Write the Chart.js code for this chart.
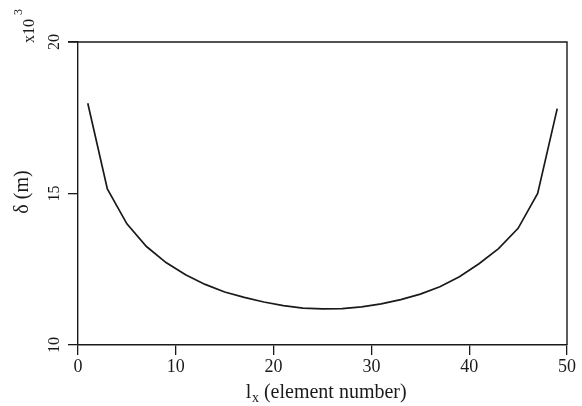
<!DOCTYPE html>
<html><head><meta charset="utf-8">
<script src="https://cdn.jsdelivr.net/npm/chart.js@4/dist/chart.umd.min.js"></script>
<style>html,body{margin:0;padding:0;background:#fff;overflow:hidden;}</style>
</head><body>
<canvas id="c" width="582" height="406"></canvas>
<script>
const elementNumbers = [1,3,5,7,9,11,13,15,17,19,21,23,25,27,29,31,33,35,37,39,41,43,45,47,49];
const deflection = [17.98,15.15,14.0,13.25,12.72,12.32,12.0,11.75,11.57,11.42,11.3,11.22,11.19,11.2,11.26,11.36,11.5,11.68,11.92,12.25,12.68,13.18,13.85,15.0,17.8];
const xTicks = [0,10,20,30,40,50];
const yTicks = [10,15,20];
const xTitleMain = 'l', xTitleSub = 'x', xTitleRest = ' (element number)';
const yTitle = 'δ (m)';
const yScaleLabel = 'x10', yScaleExp = '3';

const FONT = "'Liberation Serif', 'Times New Roman', serif";
const INK = '#1a1a1a';

const annotate = {
  id: 'annotate',
  afterDraw(chart) {
    const ctx = chart.ctx, a = chart.chartArea;
    const ys = chart.scales.y;
    ctx.save();
    ctx.strokeStyle = INK; ctx.lineWidth = 1.4;
    ctx.beginPath();
    ctx.moveTo(a.left - 10, a.top); ctx.lineTo(a.right, a.top); ctx.lineTo(a.right, a.bottom);
    ctx.stroke();
    ctx.fillStyle = INK;
    ctx.font = '16px ' + FONT;
    // y tick labels (rotated)
    yTicks.forEach(v => {
      const py = ys.getPixelForValue(v);
      ctx.save(); ctx.translate(55, py); ctx.rotate(-Math.PI/2);
      ctx.textAlign = 'center'; ctx.textBaseline = 'middle';
      ctx.fillText(String(v), 0, 0); ctx.restore();
    });
    // x10^3
    ctx.save(); ctx.translate(34, 43); ctx.rotate(-Math.PI/2);
    ctx.textAlign = 'left'; ctx.textBaseline = 'alphabetic';
    ctx.font = '16px ' + FONT;
    ctx.fillText(yScaleLabel, 0, 0);
    const w = ctx.measureText(yScaleLabel).width;
    ctx.font = '12px ' + FONT;
    ctx.fillText(yScaleExp, w + 4, -12);
    ctx.restore();
    // y title
    ctx.save(); ctx.translate(23, 192); ctx.rotate(-Math.PI/2);
    ctx.font = '20px ' + FONT; ctx.textAlign = 'center'; ctx.textBaseline = 'middle';
    ctx.fillText(yTitle, 0, 0); ctx.restore();
    // x title
    ctx.font = '20px ' + FONT;
    const w1 = ctx.measureText(xTitleMain).width;
    ctx.font = '14px ' + FONT;
    const w2 = ctx.measureText(xTitleSub).width;
    ctx.font = '20px ' + FONT;
    const w3 = ctx.measureText(xTitleRest).width;
    let x0 = 326 - (w1 + w2 + w3) / 2;
    const base = 398;
    ctx.textAlign = 'left'; ctx.textBaseline = 'alphabetic';
    ctx.fillText(xTitleMain, x0, base);
    ctx.font = '14px ' + FONT;
    ctx.fillText(xTitleSub, x0 + w1 + 0.5, base + 4);
    ctx.font = '20px ' + FONT;
    ctx.fillText(xTitleRest, x0 + w1 + w2 + 0.5, base);
    ctx.restore();
  }
};

new Chart(document.getElementById('c'), {
  type: 'line',
  data: {
    datasets: [{
      data: elementNumbers.map((x, i) => ({x: x, y: deflection[i]})),
      borderColor: INK, borderWidth: 1.7, pointRadius: 0, tension: 0, fill: false
    }]
  },
  options: {
    responsive: false, animation: false, devicePixelRatio: 1,
    layout: { padding: { left: 0, top: 42, right: 15, bottom: 0 } },
    plugins: { legend: { display: false }, tooltip: { enabled: false } },
    scales: {
      x: {
        type: 'linear', min: 0, max: 50,
        afterBuildTicks: s => { s.ticks = xTicks.map(v => ({value: v})); },
        afterFit: s => { s.height = 61; },
        grid: { drawOnChartArea: false, drawTicks: true, tickLength: 10, color: INK, lineWidth: 1.3 },
        border: { display: true, color: INK, width: 1.4 },
        ticks: { color: INK, font: { family: FONT, size: 18 }, padding: 1, maxRotation: 0 }
      },
      y: {
        type: 'linear', min: 10, max: 20,
        afterBuildTicks: s => { s.ticks = yTicks.map(v => ({value: v})); },
        afterFit: s => { s.width = 78; },
        grid: { drawOnChartArea: false, drawTicks: true, tickLength: 10, color: INK, lineWidth: 1.3 },
        border: { display: true, color: INK, width: 1.4 },
        ticks: { display: false }
      }
    }
  },
  plugins: [annotate]
});
</script>
</body></html>
